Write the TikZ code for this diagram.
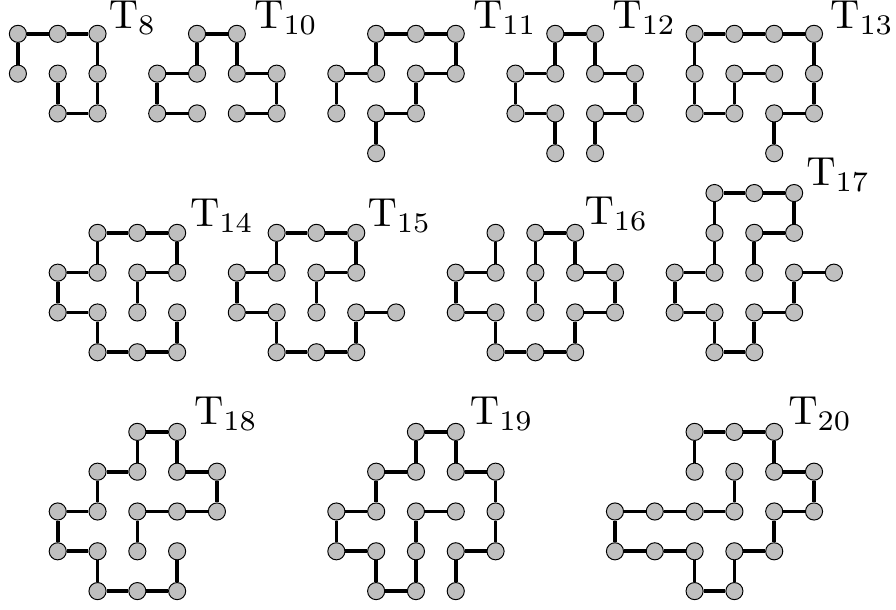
\documentclass[tikz,border=0pt]{standalone}
\usepackage{graphicx}
\usepackage{tikz}

\newcommand{\tname}[1]{\scalebox{2.9}{$\mathrm{T}_{#1}$}}

\begin{document}
\begin{tikzpicture}[
  x=1cm, y=-1cm,
  vertex/.style={circle, draw, line width=0.7pt, fill=black!25, minimum size=0.43cm, inner sep=0pt},
  edge/.style={line width=2.6pt},
  tlabel/.style={anchor=base west, inner sep=0pt}
]
  \useasboundingbox (-0.45,-0.85) rectangle (22.06,14.45);

  % T8
  \begin{scope}[shift={(0,0)}]
    \foreach \x/\y in {0/0,1/0,2/0,0/1,1/1,2/1,1/2,2/2}
      \node[vertex] (t8-\x\y) at (\x,\y) {};
    \foreach \a/\b in {00/10,10/20,00/01,20/21,21/22,22/12,12/11}
      \draw[edge] (t8-\a) -- (t8-\b);
  \end{scope}
  \node[tlabel] (t8-name) at ([shift={(0.28,-0.13)}]t8-20) {\tname{8}};

  % T10
  \begin{scope}[shift={(3.5,0)}]
    \foreach \x/\y in {1/0,2/0,0/1,1/1,2/1,3/1,0/2,1/2,2/2,3/2}
      \node[vertex] (t10-\x\y) at (\x,\y) {};
    \foreach \a/\b in {10/20,10/11,20/21,01/11,21/31,01/02,02/12,31/32,22/32}
      \draw[edge] (t10-\a) -- (t10-\b);
  \end{scope}
  \node[tlabel] (t10-name) at ([shift={(0.43,-0.13)}]t10-20) {\tname{10}};

  % T11
  \begin{scope}[shift={(8,0)}]
    \foreach \x/\y in {1/0,2/0,3/0,0/1,1/1,2/1,3/1,0/2,1/2,2/2,1/3}
      \node[vertex] (t11-\x\y) at (\x,\y) {};
    \foreach \a/\b in {10/20,20/30,10/11,30/31,01/11,21/31,01/02,21/22,12/22,12/13}
      \draw[edge] (t11-\a) -- (t11-\b);
  \end{scope}
  \node[tlabel] (t11-name) at ([shift={(0.43,-0.13)}]t11-30) {\tname{11}};

  % T12
  \begin{scope}[shift={(12.5,0)}]
    \foreach \x/\y in {1/0,2/0,0/1,1/1,2/1,3/1,0/2,1/2,2/2,3/2,1/3,2/3}
      \node[vertex] (t12-\x\y) at (\x,\y) {};
    \foreach \a/\b in {10/20,10/11,20/21,01/11,21/31,01/02,02/12,12/13,31/32,22/32,22/23}
      \draw[edge] (t12-\a) -- (t12-\b);
  \end{scope}
  \node[tlabel] (t12-name) at ([shift={(0.43,-0.13)}]t12-20) {\tname{12}};

  % T13
  \begin{scope}[shift={(17,0)}]
    \foreach \x/\y in {0/0,1/0,2/0,3/0,0/1,1/1,2/1,3/1,0/2,1/2,2/2,3/2,2/3}
      \node[vertex] (t13-\x\y) at (\x,\y) {};
    \foreach \a/\b in {00/10,10/20,20/30,00/01,01/02,02/12,12/11,11/21,30/31,31/32,32/22,22/23}
      \draw[edge] (t13-\a) -- (t13-\b);
  \end{scope}
  \node[tlabel] (t13-name) at ([shift={(0.4,-0.13)}]t13-30) {\tname{13}};

  % T14
  \begin{scope}[shift={(1,5)}]
    \foreach \x/\y in {1/0,2/0,3/0,0/1,1/1,2/1,3/1,0/2,1/2,2/2,3/2,1/3,2/3,3/3}
      \node[vertex] (t14-\x\y) at (\x,\y) {};
    \foreach \a/\b in {10/20,20/30,10/11,30/31,01/11,21/31,01/02,21/22,02/12,12/13,13/23,23/33,32/33}
      \draw[edge] (t14-\a) -- (t14-\b);
  \end{scope}
  \node[tlabel] (t14-name) at ([shift={(0.32,-0.17)}]t14-30) {\tname{14}};

  % T15
  \begin{scope}[shift={(5.5,5)}]
    \foreach \x/\y in {1/0,2/0,3/0,0/1,1/1,2/1,3/1,0/2,1/2,2/2,3/2,4/2,1/3,2/3,3/3}
      \node[vertex] (t15-\x\y) at (\x,\y) {};
    \foreach \a/\b in {10/20,20/30,10/11,30/31,01/11,21/31,01/02,21/22,02/12,12/13,13/23,23/33,33/32,32/42}
      \draw[edge] (t15-\a) -- (t15-\b);
  \end{scope}
  \node[tlabel] (t15-name) at ([shift={(0.28,-0.17)}]t15-30) {\tname{15}};

  % T16
  \begin{scope}[shift={(11,5)}]
    \foreach \x/\y in {1/0,2/0,3/0,0/1,1/1,2/1,3/1,4/1,0/2,1/2,2/2,3/2,4/2,1/3,2/3,3/3}
      \node[vertex] (t16-\x\y) at (\x,\y) {};
    \foreach \a/\b in {10/11,20/30,20/21,30/31,01/11,31/41,21/22,01/02,41/42,02/12,32/42,12/13,32/33,13/23,23/33}
      \draw[edge] (t16-\a) -- (t16-\b);
  \end{scope}
  \node[tlabel] (t16-name) at ([shift={(0.23,-0.2)}]t16-30) {\tname{16}};

  % T17
  \begin{scope}[shift={(16.5,4)}]
    \foreach \x/\y in {1/0,2/0,3/0,1/1,2/1,3/1,0/2,1/2,2/2,3/2,4/2,0/3,1/3,2/3,3/3,1/4,2/4}
      \node[vertex] (t17-\x\y) at (\x,\y) {};
    \foreach \a/\b in {10/20,20/30,10/11,11/12,30/31,21/31,21/22,02/12,02/03,03/13,13/14,14/24,24/23,23/33,33/32,32/42}
      \draw[edge] (t17-\a) -- (t17-\b);
  \end{scope}
  \node[tlabel] (t17-name) at ([shift={(0.3,-0.18)}]t17-30) {\tname{17}};

  % T18
  \begin{scope}[shift={(1,10)}]
    \foreach \x/\y in {2/0,3/0,1/1,2/1,3/1,4/1,0/2,1/2,2/2,3/2,4/2,0/3,1/3,2/3,3/3,1/4,2/4,3/4}
      \node[vertex] (t18-\x\y) at (\x,\y) {};
    \foreach \a/\b in {20/30,20/21,30/31,11/21,31/41,11/12,41/42,02/12,22/32,32/42,22/23,02/03,03/13,13/14,14/24,24/34,34/33}
      \draw[edge] (t18-\a) -- (t18-\b);
  \end{scope}
  \node[tlabel] (t18-name) at ([shift={(0.42,-0.18)}]t18-30) {\tname{18}};

  % T19
  \begin{scope}[shift={(8,10)}]
    \foreach \x/\y in {2/0,3/0,1/1,2/1,3/1,4/1,0/2,1/2,2/2,3/2,4/2,0/3,1/3,2/3,3/3,4/3,1/4,2/4,3/4}
      \node[vertex] (t19-\x\y) at (\x,\y) {};
    \foreach \a/\b in {20/30,20/21,30/31,11/21,31/41,11/12,41/42,42/43,02/12,22/32,22/23,23/24,02/03,03/13,13/14,14/24,33/43,33/34}
      \draw[edge] (t19-\a) -- (t19-\b);
  \end{scope}
  \node[tlabel] (t19-name) at ([shift={(0.35,-0.18)}]t19-30) {\tname{19}};

  % T20
  \begin{scope}[shift={(15,10)}]
    \foreach \x/\y in {2/0,3/0,4/0,2/1,3/1,4/1,5/1,0/2,1/2,2/2,3/2,4/2,5/2,0/3,1/3,2/3,3/3,4/3,2/4,3/4}
      \node[vertex] (t20-\x\y) at (\x,\y) {};
    \foreach \a/\b in {20/30,30/40,20/21,40/41,41/51,31/32,51/52,02/12,12/22,22/32,42/52,02/03,42/43,03/13,13/23,33/43,23/24,33/34,24/34}
      \draw[edge] (t20-\a) -- (t20-\b);
  \end{scope}
  \node[tlabel] (t20-name) at ([shift={(0.35,-0.18)}]t20-40) {\tname{20}};
\end{tikzpicture}
\end{document}
